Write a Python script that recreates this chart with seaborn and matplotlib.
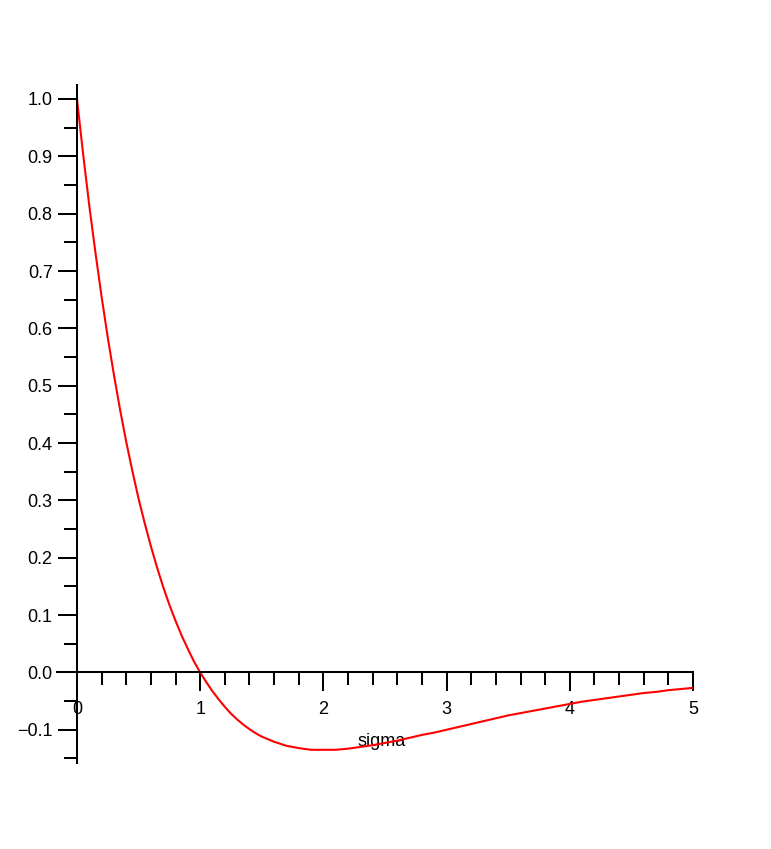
import matplotlib
matplotlib.use("Agg")
import matplotlib.pyplot as plt
import seaborn as sns
import pandas as pd

# values
sigma = [0.0, 0.05, 0.1, 0.15, 0.2, 0.25, 0.3, 0.35, 0.4, 0.45, 0.5, 0.55,
         0.6, 0.65, 0.7, 0.75, 0.8, 0.85, 0.9, 0.95, 1.0, 1.05, 1.1, 1.15,
         1.2, 1.25, 1.3, 1.35, 1.4, 1.45, 1.5, 1.6, 1.7, 1.8, 1.9,
         2.0, 2.1, 2.2, 2.3, 2.4, 2.5, 2.6, 2.7, 2.8, 2.9,
         3.0, 3.1, 3.2, 3.3, 3.4, 3.5, 3.6, 3.7, 3.8, 3.9,
         4.0, 4.1, 4.2, 4.3, 4.4, 4.5, 4.6, 4.7, 4.8, 4.9, 5.0]
value = [1.000, 0.904, 0.814, 0.732, 0.655, 0.584, 0.519, 0.458, 0.402, 0.351, 0.303, 0.260,
         0.220, 0.183, 0.149, 0.118, 0.090, 0.064, 0.041, 0.019, 0.000, -0.017, -0.033, -0.047,
         -0.060, -0.072, -0.082, -0.091, -0.099, -0.106, -0.112, -0.121, -0.128, -0.132, -0.135,
         -0.135, -0.135, -0.133, -0.130, -0.127, -0.123, -0.119, -0.114, -0.109, -0.105,
         -0.100, -0.095, -0.090, -0.085, -0.080, -0.075, -0.071, -0.067, -0.063, -0.059,
         -0.055, -0.051, -0.048, -0.045, -0.042, -0.039, -0.036, -0.034, -0.031, -0.029,
         -0.027]

x_ticks = [0, 1, 2, 3, 4, 5]
x_labels = ["0", "1", "2", "3", "4", "5"]
x_minor = [0.2, 0.4, 0.6, 0.8, 1.2, 1.4, 1.6, 1.8, 2.2, 2.4, 2.6, 2.8,
           3.2, 3.4, 3.6, 3.8, 4.2, 4.4, 4.6, 4.8]
y_ticks = [-0.1, 0.0, 0.1, 0.2, 0.3, 0.4, 0.5, 0.6, 0.7, 0.8, 0.9, 1.0]
y_labels = ["\u22120.1", "0.0", "0.1", "0.2", "0.3", "0.4", "0.5",
            "0.6", "0.7", "0.8", "0.9", "1.0"]
y_minor = [-0.15, -0.05, 0.05, 0.15, 0.25, 0.35, 0.45, 0.55, 0.65, 0.75, 0.85, 0.95]

sns.set_style("white")
plt.rcParams['font.family'] = ['Liberation Sans', 'DejaVu Sans']
plt.rcParams['text.color'] = 'black'
plt.rcParams['xtick.color'] = 'black'
plt.rcParams['ytick.color'] = 'black'
plt.rcParams['axes.labelcolor'] = 'black'

df = pd.DataFrame({"sigma": sigma, "value": value})

fig = plt.figure(figsize=(7.71, 8.49), dpi=100)
ax = fig.add_axes([57 / 771, 1 - 763 / 849, 636 / 771, 678 / 849])

sns.lineplot(data=df, x="sigma", y="value", color="red", linewidth=1.5, ax=ax)

ax.set_xlim(-0.162, 5.0)
ax.set_ylim(-0.158, 1.0244)

# axes crossing at the origin
for side in ["top", "right"]:
    ax.spines[side].set_visible(False)
ax.spines["left"].set_position(("data", 0))
ax.spines["bottom"].set_position(("data", 0))
for side in ["left", "bottom"]:
    ax.spines[side].set_linewidth(1.45)
    ax.spines[side].set_color("black")

ax.set_xticks(x_ticks)
ax.set_xticklabels(x_labels)
ax.set_xticks(x_minor, minor=True)
ax.set_yticks(y_ticks)
ax.set_yticklabels(y_labels)
ax.set_yticks(y_minor, minor=True)

ax.tick_params(which="major", length=14, width=1.45, color="black", labelsize=13, labelcolor="black")
ax.tick_params(which="minor", length=9.5, width=1.45, color="black")
ax.tick_params(axis="x", which="both", direction="out", bottom=True)
ax.tick_params(axis="x", which="major", pad=6.5)
ax.tick_params(axis="y", which="both", direction="out", left=True)
ax.tick_params(axis="y", which="major", pad=3.5)

ax.set_ylabel("")
ax.set_xlabel("sigma", fontsize=13, va="center", color="black")
ax.xaxis.set_label_coords(2.47, -0.121, transform=ax.transData)

fig.savefig("out.png", dpi=100)
